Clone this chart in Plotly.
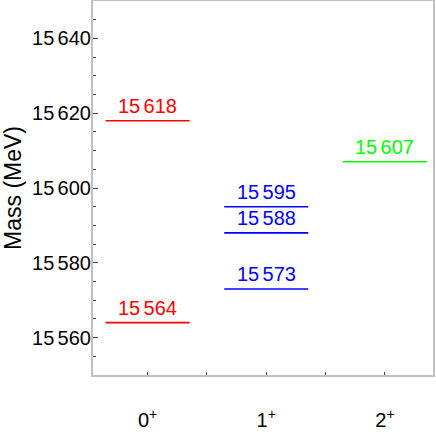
import plotly.graph_objects as go

# spin-parity columns and predicted masses (MeV)
states = ["0<sup>+</sup>", "1<sup>+</sup>", "2<sup>+</sup>"]
state_pos = [0, 1, 2]
masses_0 = [15564, 15618]
masses_1 = [15573, 15588, 15595]
masses_2 = [15607]
colors = ["#ff0000", "#0000ff", "#00ff00"]

y_ticks = [15560, 15580, 15600, 15620, 15640]

def fmt(v):
    # digit grouping with a narrow gap, as in the original
    s = str(v)
    return s[:2] + "\u2006" + s[2:]

half = 0.354
FONT = "Liberation Sans, Arial, sans-serif"
FS = 20

fig = go.Figure()

for pos, masses, col in zip(state_pos, [masses_0, masses_1, masses_2], colors):
    for m in masses:
        fig.add_trace(go.Scatter(
            x=[pos - half, pos + half], y=[m, m],
            mode="lines", line=dict(color=col, width=1.6),
            hoverinfo="skip", showlegend=False,
        ))
        fig.add_annotation(
            x=pos, y=m, text=fmt(m), showarrow=False,
            yanchor="bottom", yshift=2,
            font=dict(family=FONT, size=FS, color=col),
        )

fig.update_layout(
    width=436, height=436,
    margin=dict(l=93, r=3, t=1, b=61),
    plot_bgcolor="white", paper_bgcolor="white",
    showlegend=False,
    font=dict(family=FONT, size=FS, color="black"),
)

fig.update_xaxes(
    range=[-0.46, 2.405],
    tickvals=state_pos, ticktext=states,
    ticks="inside", ticklen=3, tickcolor="#444", tickwidth=1,
    minor=dict(dtick=0.5, tick0=0.5, ticks="inside", ticklen=3, tickcolor="#444"),
    showline=True, linecolor="#c0c0c0", linewidth=2, mirror=True,
    showgrid=False, zeroline=False,
    ticklabelstandoff=26,
    tickfont=dict(size=FS),
    automargin=False,
)

fig.update_yaxes(
    range=[15550, 15650],
    tickvals=y_ticks, ticktext=[fmt(v) for v in y_ticks],
    ticks="inside", ticklen=5, tickcolor="#444", tickwidth=1,
    minor=dict(dtick=5, tick0=15550, ticks="inside", ticklen=3, tickcolor="#444"),
    showline=True, linecolor="#c0c0c0", linewidth=2, mirror=True,
    showgrid=False, zeroline=False,
    ticklabelstandoff=-4,
    title=dict(text="Mass (MeV)", font=dict(size=23), standoff=6),
    tickfont=dict(size=FS),
    automargin=False,
)

fig.write_html(
    "out.html",
    config={"displayModeBar": False},
    post_script="document.body.style.margin='0';document.body.style.overflow='hidden';",
)
